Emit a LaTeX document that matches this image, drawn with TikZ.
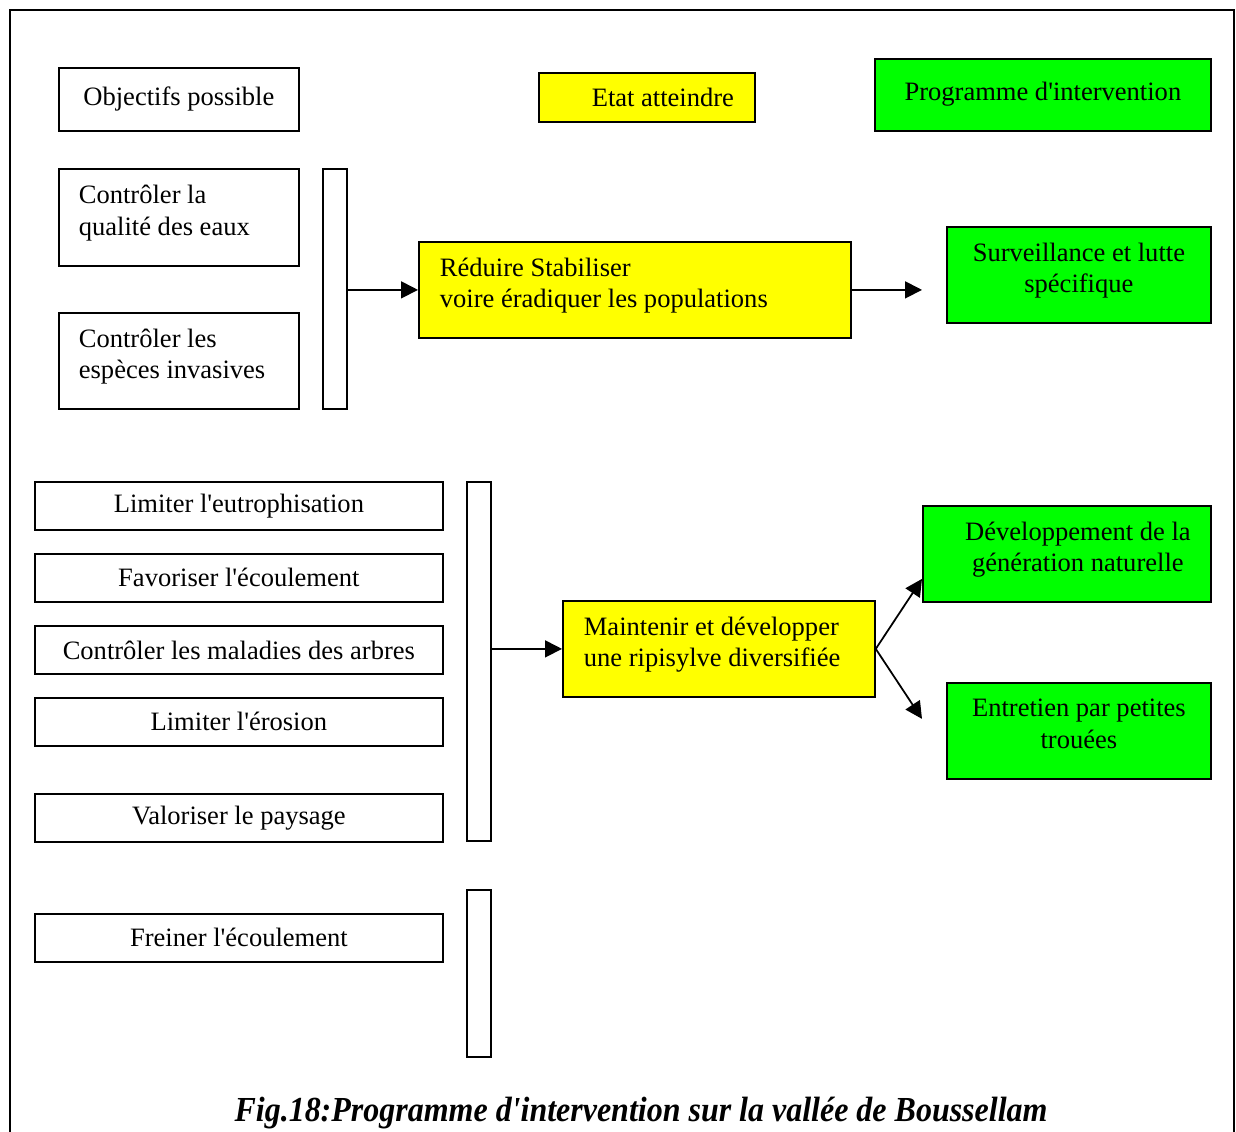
\documentclass[tikz,border=0pt]{standalone}
\usepackage{fontspec}
\setmainfont{Liberation Serif}
\usepackage{xcolor}
\usetikzlibrary{arrows.meta, positioning, calc}
\definecolor{jaune}{RGB}{255,255,0}
\definecolor{vert}{RGB}{0,255,0}
\newcommand{\apo}{\textquotesingle}
\tikzset{
  box/.style={rectangle, draw=black, line width=1pt, anchor=north west,
              inner sep=0pt, font=\fontsize{15.1}{18}\selectfont, align=center},
  deux/.style={text depth=0.28cm},
  gauche/.style={align=flush left, text depth=0.92cm},
  obj/.style={box, minimum width=8.16cm, minimum height=0.96cm},
  etat/.style={box, fill=jaune},
  prog/.style={box, fill=vert},
  barre/.style={box, minimum width=0.48cm},
  arc/.style={-{Triangle[length=0.34cm, width=0.34cm]}, line width=1pt}
}

\begin{document}
\begin{tikzpicture}
  \useasboundingbox (0,0) rectangle (24.72,-22.62);
  \draw[line width=1pt] (0.2,-23) -- (0.2,-0.2) -- (24.68,-0.2) -- (24.68,-23);

  % en-tetes
  \node[box, minimum width=4.8cm, minimum height=1.26cm] (objectifs) at (1.16,-1.34) {Objectifs possible};
  \node[etat, minimum width=4.32cm, minimum height=0.98cm] (etatat) at (10.76,-1.44) {\hspace*{0.64cm}Etat atteindre};
  \node[prog, minimum width=6.72cm, minimum height=1.44cm] (programme) at (17.48,-1.16)
    {\raisebox{0.16cm}{Programme d\apo intervention}};

  % premier groupe
  \node[box, gauche, minimum width=4.8cm, minimum height=1.94cm, text width=4.0cm] (qualite) at (1.16,-3.36)
    {Contrôler la\\qualité des eaux};
  \node[box, gauche, minimum width=4.8cm, minimum height=1.92cm, text width=4.0cm] (invasives) at (1.16,-6.24)
    {Contrôler les\\espèces invasives};
  \node[barre, minimum height=4.8cm] (barre1) at (6.44,-3.36) {};
  \node[etat, gauche, minimum width=8.64cm, minimum height=1.92cm, text width=7.8cm] (reduire) at (8.36,-4.82)
    {Réduire Stabiliser\\voire éradiquer les populations};
  \node[prog, deux, minimum width=5.28cm, minimum height=1.92cm] (surveillance) at (18.92,-4.52)
    {Surveillance et lutte\\spécifique};
  \draw[arc] (reduire.west -| barre1.east) -- (reduire.west);
  \draw[arc] (reduire.east) -- ([xshift=-0.48cm]surveillance.west |- reduire.east);

  % second groupe
  \node[obj] (eutro) at (0.68,-9.62) {Limiter l\apo eutrophisation};
  \node[obj] (favoriser) at (0.68,-11.06) {Favoriser l\apo écoulement};
  \node[obj] (maladies) at (0.68,-12.5) {Contrôler les maladies des arbres};
  \node[obj] (erosion) at (0.68,-13.94) {Limiter l\apo érosion};
  \node[obj] (paysage) at (0.68,-15.86) {Valoriser le paysage};
  \node[obj] (freiner) at (0.68,-18.26) {Freiner l\apo écoulement};
  \node[barre, minimum height=7.18cm] (barre2) at (9.32,-9.62) {};
  \node[barre, minimum height=3.34cm] (barre3) at (9.32,-17.78) {};
  \node[etat, gauche, minimum width=6.24cm, minimum height=1.92cm, text width=5.4cm] (maintenir) at (11.24,-12.0)
    {Maintenir et développer\\une ripisylve diversifiée};
  \node[prog, deux, minimum width=5.76cm, minimum height=1.92cm] (developpement) at (18.44,-10.1)
    {\hspace*{0.44cm}Développement de la\\\hspace*{0.44cm}génération naturelle};
  \node[prog, deux, minimum width=5.28cm, minimum height=1.92cm] (entretien) at (18.92,-13.64)
    {Entretien par petites\\trouées};
  \draw[arc] (maintenir.west -| barre2.east) -- (maintenir.west);
  \draw[arc] (maintenir.east) -- ([yshift=-0.5cm]developpement.west);
  \draw[arc] (maintenir.east) -- ([xshift=-0.48cm, yshift=0.24cm]entretien.west);

  \node[font=\fontsize{20}{24}\selectfont\bfseries\itshape] (legende) at (12.82,-22.26)
    {\scalebox{0.91}[1]{Fig.18:Programme d\apo intervention sur la vallée de Boussellam}};
\end{tikzpicture}
\end{document}
